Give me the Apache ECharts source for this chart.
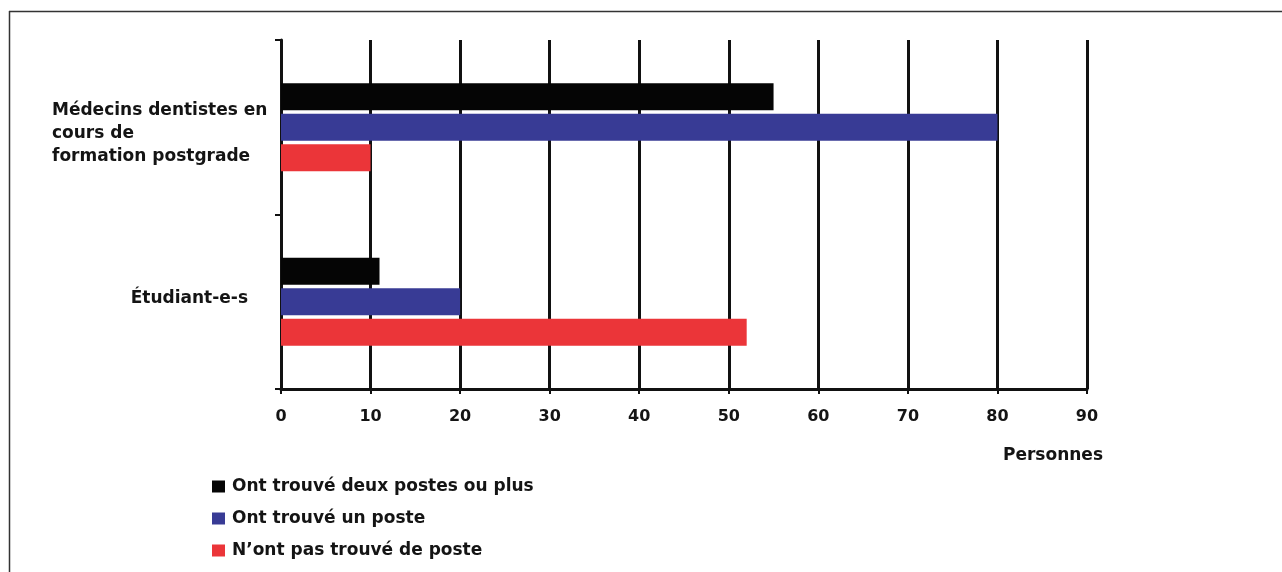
<!DOCTYPE html>
<html>
<head>
<meta charset="utf-8">
<script src="https://cdn.jsdelivr.net/npm/echarts@6/dist/echarts.min.js"></script>
<style>
  html, body { margin: 0; padding: 0; background: #ffffff; }
  #chart { width: 1282px; height: 572px; }
</style>
</head>
<body>
<div id="chart"></div>
<script>
// Categories (top to bottom) and the three answer groups
const categories = ['Médecins dentistes en\ncours de\nformation postgrade', 'Étudiant-e-s'];
const seriesNames = ['Ont trouvé deux postes ou plus', 'Ont trouvé un poste', "N’ont pas trouvé de poste"];
const twoOrMore = [55, 11];
const onePost = [80, 20];
const noPost = [10, 52];
const xTicks = [0, 10, 20, 30, 40, 50, 60, 70, 80, 90];
const xAxisTitle = 'Personnes';

const colors = ['#050505', '#383b95', '#eb3539'];
const font = '"DejaVu Sans", "Liberation Sans", Arial, sans-serif';
const ink = '#141414';

const chart = echarts.init(document.getElementById('chart'), null, { renderer: 'canvas' });

const barCommon = {
  type: 'bar',
  barWidth: 27,
  barGap: '13%',
  z: 3
};

const labelText = { fontFamily: font, fontWeight: 'bold', fontSize: 17, color: ink };

chart.setOption({
  backgroundColor: '#ffffff',
  animation: false,
  textStyle: { fontFamily: font },
  grid: { left: 281, right: 195, top: 40, bottom: 183, containLabel: false },
  legend: {
    orient: 'vertical',
    left: 212,
    top: 478,
    padding: 0,
    itemWidth: 13,
    itemHeight: 12,
    itemGap: 15,
    icon: 'rect',
    textStyle: Object.assign({ padding: [0, 0, 0, 2] }, labelText),
    data: seriesNames
  },
  xAxis: {
    type: 'value',
    min: xTicks[0],
    max: xTicks[xTicks.length - 1],
    interval: xTicks[1] - xTicks[0],
    name: xAxisTitle,
    nameLocation: 'end',
    nameGap: 16,
    nameTextStyle: Object.assign({ align: 'right', verticalAlign: 'top', padding: [58, 0, 0, 0] }, labelText),
    axisLine: { show: true, lineStyle: { color: '#111', width: 3 } },
    axisTick: { show: true, length: 5, lineStyle: { color: '#111', width: 2 } },
    splitLine: { show: true, lineStyle: { color: '#111', width: 3 } },
    axisLabel: { fontFamily: font, fontWeight: 'bold', fontSize: 16, color: ink, margin: 20 }
  },
  yAxis: {
    type: 'category',
    inverse: true,
    data: categories,
    axisLine: { show: true, lineStyle: { color: '#111', width: 3 } },
    axisTick: { show: true, length: 6, lineStyle: { color: '#111', width: 2 } },
    splitLine: { show: false },
    axisLabel: {
      margin: 13,
      padding: [12, 0, 0, 0],
      formatter: function (value, idx) {
        return value.split('\n').map(function (line) {
          return (idx === 0 ? '{a|' : '{b|') + line + '}';
        }).join('\n');
      },
      rich: {
        a: Object.assign({ width: 216, align: 'left', lineHeight: 23 }, labelText),
        b: Object.assign({ lineHeight: 23, padding: [0, 20, 18, 0] }, labelText)
      }
    }
  },
  series: [
    Object.assign({ name: seriesNames[0], data: twoOrMore, itemStyle: { color: colors[0] } }, barCommon),
    Object.assign({ name: seriesNames[1], data: onePost, itemStyle: { color: colors[1] } }, barCommon),
    Object.assign({ name: seriesNames[2], data: noPost, itemStyle: { color: colors[2] } }, barCommon)
  ],
  graphic: [
    // thin frame along the top and left edges
    { type: 'line', shape: { x1: 9, y1: 11.5, x2: 1282, y2: 11.5 }, style: { stroke: '#333', lineWidth: 1.5 }, silent: true },
    { type: 'line', shape: { x1: 9.5, y1: 11, x2: 9.5, y2: 572 }, style: { stroke: '#333', lineWidth: 1.5 }, silent: true }
  ]
});
</script>
</body>
</html>
